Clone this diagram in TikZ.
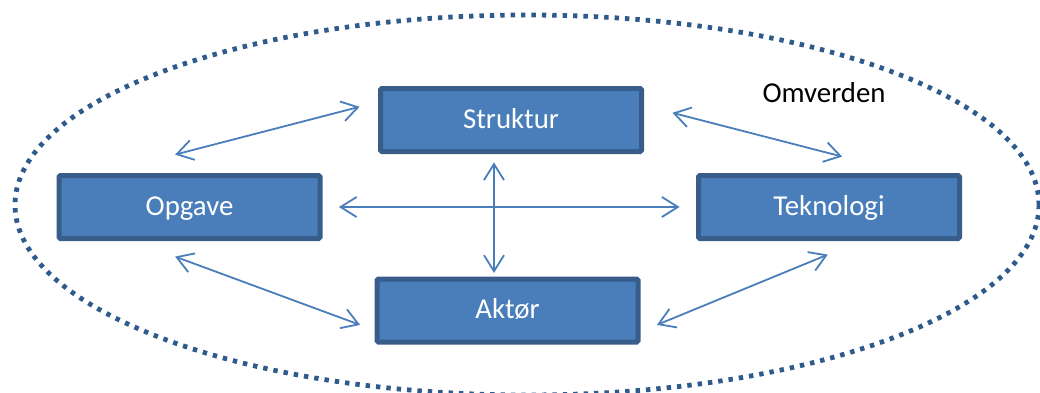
\documentclass[tikz,border=0pt]{standalone}
\usepackage{fontspec}
\setmainfont{Carlito}
\usetikzlibrary{arrows.meta}

\definecolor{boxfill}{HTML}{4A7EBB}
\definecolor{boxline}{HTML}{385D8A}
\definecolor{dotline}{HTML}{2F5B8C}

\begin{document}
\begin{tikzpicture}[
    box/.style={draw=boxline, line width=0.125cm, fill=boxfill, rounded corners=1pt,
      minimum width=6.525cm, minimum height=1.575cm, inner sep=0pt,
      text=white, text height=0.55cm, text depth=0.15cm,
      font=\fontsize{20.5}{24}\selectfont},
    link/.style={boxfill, line width=0.045cm, {Straight Barb[length=0.4cm,width=0.5cm]}-{Straight Barb[length=0.4cm,width=0.5cm]}}
  ]
  \useasboundingbox (0,0) rectangle (26,9.8);
  %% the surroundings
  \draw[dotline, line width=0.12cm, dash pattern=on 0.11cm off 0.15cm] (13.175,4.675) ellipse (12.8cm and 4.75cm);
  \node[anchor=base, font=\fontsize{20.5}{24}\selectfont] (omv) at (20.6,7.25) {Omverden};

  \node[box] (str) at (12.775,6.8) {Struktur};
  \node[box] (opg) at (4.7375,4.625) {Opgave};
  \node[box] (tek) at (20.725,4.625) {Teknologi};
  \node[box] (akt) at (12.6875,2.0375) {Aktør};

  \draw[link] ([shift={(-0.36,0.46)}]opg.north) -- ([shift={(-0.46,0.33)}]str.west);
  \draw[link] ([shift={(0.71,0.18)}]str.east) -- ([shift={(0.33,0.41)}]tek.north);
  \draw[link, shorten <=0.41cm, shorten >=0.41cm] (opg.east) -- (tek.west);
  \draw[link] ([shift={(-0.425,-0.21)}]str.south) -- ([shift={(-0.3375,0.09)}]akt.north);
  \draw[link] ([shift={(-0.36,-0.39)}]opg.south) -- ([shift={(-0.36,-0.36)}]akt.west);
  \draw[link] ([shift={(-0.03,-0.34)}]tek.south) -- ([shift={(0.41,-0.36)}]akt.east);
  %\draw[red] (0,0) rectangle (26,9.8); %guide
\end{tikzpicture}
\end{document}
